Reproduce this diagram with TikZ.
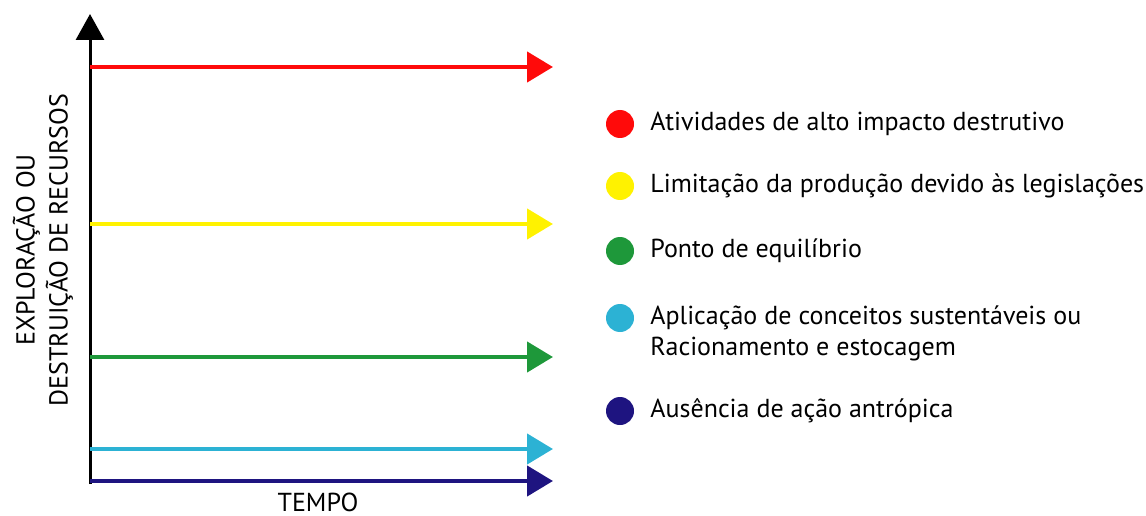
\documentclass[tikz,border=0pt]{standalone}
\usepackage{fontspec}
\setmainfont{PT Sans}
\usetikzlibrary{arrows.meta,positioning}

\definecolor{impred}{RGB}{255,10,10}
\definecolor{impyellow}{RGB}{255,242,0}
\definecolor{impgreen}{RGB}{30,152,58}
\definecolor{impcyan}{RGB}{44,178,212}
\definecolor{impnavy}{RGB}{30,20,128}

\begin{document}
\begin{tikzpicture}[x=1pt,y=-1pt,>={Triangle[length=26pt,width=30pt]},level/.style={line width=4.5pt,->},dot/.style={circle,fill,minimum size=28pt,inner sep=0pt},legend text/.style={anchor=west,inner sep=0pt,align=left,font=\fontsize{26}{31}\selectfont},axis text/.style={font=\fontsize{26}{33}\selectfont,align=center}]
    \useasboundingbox (0,0) rectangle (1146,516);

    % axes
    \coordinate (origin) at (90,484);
    \coordinate (top) at (90,14);
    \draw[line width=3pt,-{Triangle[length=26pt,width=28pt]}] (origin) -- (top);
    \node[axis text,anchor=base,inner sep=0pt] (xlabel) at (318,511) {TEMPO};
    \node[axis text,rotate=90] (ylabel) at (43,250) {EXPLORAÇÃO OU\\DESTRUIÇÃO DE RECURSOS};

    % levels
    \coordinate (r0) at (90,67);  \coordinate (r1) at (553,67);
    \coordinate (y0) at (90,224); \coordinate (y1) at (553,224);
    \coordinate (g0) at (90,357); \coordinate (g1) at (553,357);
    \coordinate (c0) at (90,449); \coordinate (c1) at (553,449);
    \coordinate (n0) at (90,481); \coordinate (n1) at (553,481);
    \draw[level,impred] (r0) -- (r1);
    \draw[level,impyellow] (y0) -- (y1);
    \draw[level,impgreen] (g0) -- (g1);
    \draw[level,impcyan] (c0) -- (c1);
    \draw[level,impnavy] (n0) -- (n1);

    % legend
    \node[dot,impred] (d1) at (620,124) {};
    \node[dot,impyellow] (d2) at (620,186) {};
    \node[dot,impgreen] (d3) at (620,251) {};
    \node[dot,impcyan] (d4) at (620,318) {};
    \node[dot,impnavy] (d5) at (620,411) {};
    \node[legend text,right=16pt of d1] (t1) {Atividades de alto impacto destrutivo};
    \node[legend text,right=16pt of d2] (t2) {Limitação da produção devido às legislações};
    \node[legend text,right=16pt of d3] (t3) {Ponto de equilíbrio};
    \node[legend text] (t4) at ([xshift=16pt,yshift=-15.5pt]d4.east) {Aplicação de conceitos sustentáveis ou\\Racionamento e estocagem};
    \node[legend text,right=16pt of d5] (t5) {Ausência de ação antrópica};
\end{tikzpicture}
\end{document}
